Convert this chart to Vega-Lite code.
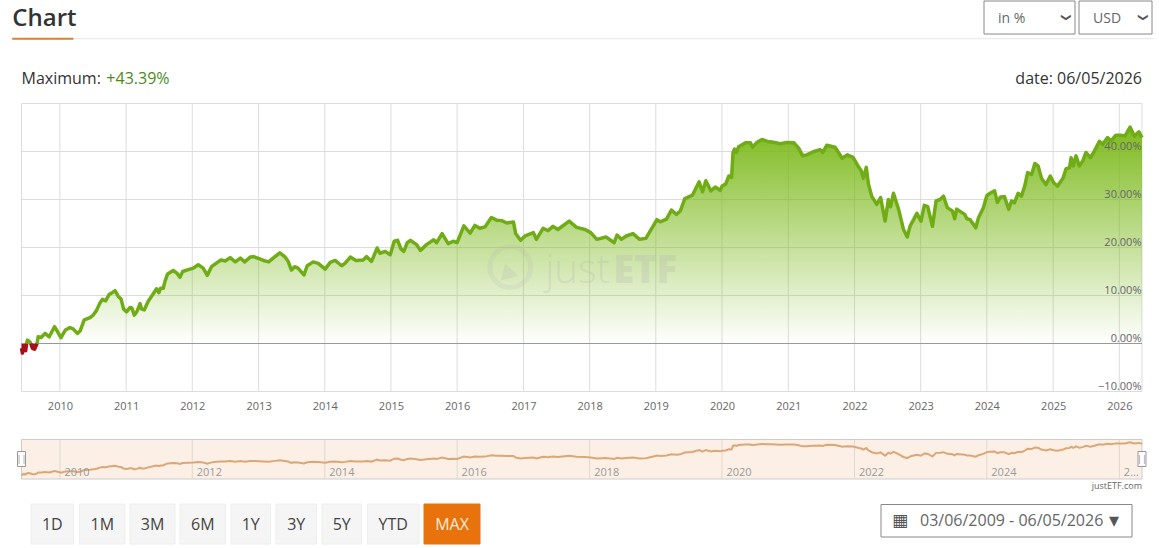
{
  "$schema": "https://vega.github.io/schema/vega-lite/v6.json",
  "width": 1159,
  "height": 548,
  "padding": 0,
  "autosize": {"type": "none"},
  "background": "white",
  "config": {"font": "Open Sans", "view": {"stroke": null}},
  "resolve": {"scale": {"x": "independent", "y": "independent", "color": "independent"}},
  "datasets": {
    "series": [
      {"date":"2009-06-03","value":-1.0,"run":"loss_a"},{"date":"2009-06-08","value":-2.0,"run":"loss_a"},{"date":"2009-06-16","value":-0.7,"run":"loss_a"},{"date":"2009-06-26","value":-1.5,"run":"loss_a"},{"date":"2009-07-01","value":0,"run":"loss_a"},
      {"date":"2009-07-01","value":0,"run":"gain_a"},{"date":"2009-07-06","value":0.7,"run":"gain_a"},{"date":"2009-07-19","value":0.35,"run":"gain_a"},{"date":"2009-07-24","value":0,"run":"gain_a"},
      {"date":"2009-07-24","value":0,"run":"loss_b"},{"date":"2009-08-02","value":-1.0,"run":"loss_b"},{"date":"2009-08-14","value":-1.2,"run":"loss_b"},{"date":"2009-08-28","value":0,"run":"loss_b"},
      {"date":"2009-08-28","value":0,"run":"gain_b"},{"date":"2009-09-03","value":1.4,"run":"gain_b"},{"date":"2009-09-19","value":1.25,"run":"gain_b"},{"date":"2009-10-11","value":2.1,"run":"gain_b"},{"date":"2009-11-03","value":1.4,"run":"gain_b"},{"date":"2009-12-02","value":3.5,"run":"gain_b"},{"date":"2009-12-20","value":2.4,"run":"gain_b"},
      {"date":"2010-01-06","value":1.2,"run":"gain_b"},{"date":"2010-01-31","value":2.8,"run":"gain_b"},{"date":"2010-02-25","value":3.3,"run":"gain_b"},{"date":"2010-03-15","value":3.05,"run":"gain_b"},{"date":"2010-04-07","value":2.1,"run":"gain_b"},{"date":"2010-04-22","value":2.6,"run":"gain_b"},{"date":"2010-05-15","value":4.9,"run":"gain_b"},{"date":"2010-06-16","value":5.4,"run":"gain_b"},{"date":"2010-07-03","value":5.9,"run":"gain_b"},{"date":"2010-07-22","value":6.9,"run":"gain_b"},{"date":"2010-08-09","value":8.4,"run":"gain_b"},{"date":"2010-08-23","value":9.2,"run":"gain_b"},{"date":"2010-09-10","value":8.9,"run":"gain_b"},{"date":"2010-09-29","value":10.2,"run":"gain_b"},{"date":"2010-10-13","value":10.5,"run":"gain_b"},{"date":"2010-11-01","value":11.0,"run":"gain_b"},{"date":"2010-11-19","value":9.8,"run":"gain_b"},{"date":"2010-12-04","value":9.3,"run":"gain_b"},{"date":"2010-12-18","value":7.2,"run":"gain_b"},
      {"date":"2011-01-03","value":6.6,"run":"gain_b"},{"date":"2011-01-23","value":7.5,"run":"gain_b"},{"date":"2011-02-02","value":7.4,"run":"gain_b"},{"date":"2011-02-15","value":5.9,"run":"gain_b"},{"date":"2011-03-01","value":6.6,"run":"gain_b"},{"date":"2011-03-19","value":8.3,"run":"gain_b"},{"date":"2011-03-27","value":7.2,"run":"gain_b"},{"date":"2011-04-11","value":7.0,"run":"gain_b"},{"date":"2011-05-03","value":8.8,"run":"gain_b"},{"date":"2011-05-30","value":10.3,"run":"gain_b"},{"date":"2011-06-18","value":11.4,"run":"gain_b"},{"date":"2011-07-01","value":10.6,"run":"gain_b"},{"date":"2011-07-10","value":11.5,"run":"gain_b"},{"date":"2011-07-25","value":11.5,"run":"gain_b"},{"date":"2011-08-04","value":13.0,"run":"gain_b"},{"date":"2011-08-18","value":14.5,"run":"gain_b"},{"date":"2011-09-18","value":15.2,"run":"gain_b"},{"date":"2011-10-10","value":14.6,"run":"gain_b"},{"date":"2011-10-25","value":13.8,"run":"gain_b"},{"date":"2011-11-09","value":15.0,"run":"gain_b"},{"date":"2011-12-10","value":15.4,"run":"gain_b"},
      {"date":"2012-01-07","value":15.7,"run":"gain_b"},{"date":"2012-02-03","value":16.4,"run":"gain_b"},{"date":"2012-03-01","value":15.7,"run":"gain_b"},{"date":"2012-03-24","value":14.2,"run":"gain_b"},{"date":"2012-04-16","value":16.0,"run":"gain_b"},{"date":"2012-05-15","value":16.8,"run":"gain_b"},{"date":"2012-06-07","value":17.4,"run":"gain_b"},{"date":"2012-07-01","value":17.2,"run":"gain_b"},{"date":"2012-07-28","value":17.9,"run":"gain_b"},{"date":"2012-08-25","value":17.0,"run":"gain_b"},{"date":"2012-09-22","value":17.8,"run":"gain_b"},{"date":"2012-10-16","value":17.0,"run":"gain_b"},{"date":"2012-11-16","value":18.0,"run":"gain_b"},{"date":"2012-12-04","value":18.1,"run":"gain_b"},
      {"date":"2013-01-03","value":17.7,"run":"gain_b"},{"date":"2013-01-28","value":17.3,"run":"gain_b"},{"date":"2013-02-25","value":17.0,"run":"gain_b"},{"date":"2013-03-22","value":17.8,"run":"gain_b"},{"date":"2013-04-28","value":18.9,"run":"gain_b"},{"date":"2013-05-25","value":18.1,"run":"gain_b"},{"date":"2013-06-12","value":17.2,"run":"gain_b"},{"date":"2013-07-01","value":15.3,"run":"gain_b"},{"date":"2013-07-19","value":16.0,"run":"gain_b"},{"date":"2013-08-06","value":15.7,"run":"gain_b"},{"date":"2013-09-08","value":14.3,"run":"gain_b"},{"date":"2013-09-26","value":16.2,"run":"gain_b"},{"date":"2013-10-29","value":17.0,"run":"gain_b"},{"date":"2013-11-26","value":16.7,"run":"gain_b"},
      {"date":"2014-01-03","value":15.5,"run":"gain_b"},{"date":"2014-01-31","value":16.9,"run":"gain_b"},{"date":"2014-02-27","value":17.3,"run":"gain_b"},{"date":"2014-04-04","value":16.2,"run":"gain_b"},{"date":"2014-04-22","value":16.7,"run":"gain_b"},{"date":"2014-05-22","value":18.0,"run":"gain_b"},{"date":"2014-06-21","value":17.3,"run":"gain_b"},{"date":"2014-08-01","value":17.4,"run":"gain_b"},{"date":"2014-08-19","value":18.1,"run":"gain_b"},{"date":"2014-09-16","value":17.1,"run":"gain_b"},{"date":"2014-10-17","value":19.9,"run":"gain_b"},{"date":"2014-11-01","value":18.8,"run":"gain_b"},{"date":"2014-11-30","value":19.2,"run":"gain_b"},{"date":"2014-12-28","value":18.5,"run":"gain_b"},
      {"date":"2015-01-19","value":21.3,"run":"gain_b"},{"date":"2015-02-07","value":21.5,"run":"gain_b"},{"date":"2015-02-25","value":19.7,"run":"gain_b"},{"date":"2015-03-13","value":19.2,"run":"gain_b"},{"date":"2015-04-01","value":21.0,"run":"gain_b"},{"date":"2015-04-19","value":21.5,"run":"gain_b"},{"date":"2015-05-22","value":20.6,"run":"gain_b"},{"date":"2015-06-13","value":19.4,"run":"gain_b"},{"date":"2015-07-16","value":20.6,"run":"gain_b"},{"date":"2015-08-25","value":21.6,"run":"gain_b"},{"date":"2015-09-10","value":21.0,"run":"gain_b"},{"date":"2015-10-10","value":22.9,"run":"gain_b"},{"date":"2015-11-13","value":20.8,"run":"gain_b"},{"date":"2015-12-10","value":21.3,"run":"gain_b"},
      {"date":"2016-01-01","value":21.0,"run":"gain_b"},{"date":"2016-02-07","value":24.5,"run":"gain_b"},{"date":"2016-03-13","value":23.0,"run":"gain_b"},{"date":"2016-04-08","value":24.6,"run":"gain_b"},{"date":"2016-05-05","value":24.0,"run":"gain_b"},{"date":"2016-06-03","value":24.3,"run":"gain_b"},{"date":"2016-07-08","value":26.25,"run":"gain_b"},{"date":"2016-08-06","value":25.7,"run":"gain_b"},{"date":"2016-09-03","value":25.6,"run":"gain_b"},{"date":"2016-10-01","value":25.1,"run":"gain_b"},{"date":"2016-11-07","value":25.3,"run":"gain_b"},{"date":"2016-11-19","value":22.9,"run":"gain_b"},{"date":"2016-12-16","value":21.5,"run":"gain_b"},
      {"date":"2017-01-10","value":22.4,"run":"gain_b"},{"date":"2017-02-25","value":23.1,"run":"gain_b"},{"date":"2017-03-13","value":21.7,"run":"gain_b"},{"date":"2017-04-19","value":24.0,"run":"gain_b"},{"date":"2017-05-16","value":23.5,"run":"gain_b"},{"date":"2017-06-13","value":24.4,"run":"gain_b"},{"date":"2017-07-10","value":23.75,"run":"gain_b"},{"date":"2017-09-10","value":25.5,"run":"gain_b"},{"date":"2017-10-21","value":24.2,"run":"gain_b"},{"date":"2017-12-07","value":23.75,"run":"gain_b"},
      {"date":"2018-01-07","value":23.1,"run":"gain_b"},{"date":"2018-02-10","value":21.7,"run":"gain_b"},{"date":"2018-04-01","value":22.2,"run":"gain_b"},{"date":"2018-05-16","value":21.0,"run":"gain_b"},{"date":"2018-06-01","value":22.6,"run":"gain_b"},{"date":"2018-06-25","value":21.7,"run":"gain_b"},{"date":"2018-07-22","value":22.4,"run":"gain_b"},{"date":"2018-08-28","value":22.9,"run":"gain_b"},{"date":"2018-10-04","value":21.7,"run":"gain_b"},{"date":"2018-11-07","value":21.9,"run":"gain_b"},{"date":"2018-12-13","value":24.2,"run":"gain_b"},
      {"date":"2019-01-07","value":25.8,"run":"gain_b"},{"date":"2019-01-25","value":25.35,"run":"gain_b"},{"date":"2019-03-01","value":25.9,"run":"gain_b"},{"date":"2019-03-28","value":27.8,"run":"gain_b"},{"date":"2019-04-25","value":26.9,"run":"gain_b"},{"date":"2019-05-16","value":27.6,"run":"gain_b"},{"date":"2019-06-10","value":30.2,"run":"gain_b"},{"date":"2019-07-22","value":30.9,"run":"gain_b"},{"date":"2019-08-28","value":33.7,"run":"gain_b"},{"date":"2019-09-16","value":31.6,"run":"gain_b"},{"date":"2019-10-04","value":33.9,"run":"gain_b"},{"date":"2019-11-01","value":31.8,"run":"gain_b"},{"date":"2019-11-25","value":32.6,"run":"gain_b"},{"date":"2019-12-22","value":31.9,"run":"gain_b"},
      {"date":"2020-01-02","value":32.8,"run":"gain_b"},{"date":"2020-01-21","value":33.2,"run":"gain_b"},{"date":"2020-02-08","value":34.9,"run":"gain_b"},{"date":"2020-02-23","value":34.6,"run":"gain_b"},{"date":"2020-03-02","value":39.8,"run":"gain_b"},{"date":"2020-03-10","value":40.5,"run":"gain_b"},{"date":"2020-03-20","value":39.8,"run":"gain_b"},{"date":"2020-04-02","value":41.0,"run":"gain_b"},{"date":"2020-05-09","value":41.8,"run":"gain_b"},{"date":"2020-06-06","value":41.8,"run":"gain_b"},{"date":"2020-06-18","value":40.9,"run":"gain_b"},{"date":"2020-07-12","value":41.9,"run":"gain_b"},{"date":"2020-08-09","value":42.5,"run":"gain_b"},{"date":"2020-09-07","value":42.1,"run":"gain_b"},{"date":"2020-10-03","value":42.0,"run":"gain_b"},{"date":"2020-11-18","value":41.6,"run":"gain_b"},{"date":"2020-12-25","value":41.9,"run":"gain_b"},
      {"date":"2021-02-01","value":41.8,"run":"gain_b"},{"date":"2021-02-27","value":40.7,"run":"gain_b"},{"date":"2021-03-21","value":39.1,"run":"gain_b"},{"date":"2021-04-13","value":39.3,"run":"gain_b"},{"date":"2021-05-18","value":39.95,"run":"gain_b"},{"date":"2021-06-25","value":40.4,"run":"gain_b"},{"date":"2021-07-10","value":39.8,"run":"gain_b"},{"date":"2021-08-01","value":41.3,"run":"gain_b"},{"date":"2021-09-16","value":40.9,"run":"gain_b"},{"date":"2021-10-25","value":38.6,"run":"gain_b"},{"date":"2021-11-22","value":39.3,"run":"gain_b"},{"date":"2021-12-24","value":38.8,"run":"gain_b"},
      {"date":"2022-01-25","value":36.7,"run":"gain_b"},{"date":"2022-02-07","value":36.0,"run":"gain_b"},{"date":"2022-02-19","value":34.4,"run":"gain_b"},{"date":"2022-03-07","value":36.7,"run":"gain_b"},{"date":"2022-03-19","value":33.2,"run":"gain_b"},{"date":"2022-04-07","value":30.6,"run":"gain_b"},{"date":"2022-05-04","value":29.0,"run":"gain_b"},{"date":"2022-05-25","value":30.4,"run":"gain_b"},{"date":"2022-06-19","value":25.5,"run":"gain_b"},{"date":"2022-07-07","value":30.0,"run":"gain_b"},{"date":"2022-07-19","value":28.5,"run":"gain_b"},{"date":"2022-08-04","value":31.3,"run":"gain_b"},{"date":"2022-09-01","value":28.0,"run":"gain_b"},{"date":"2022-09-28","value":23.8,"run":"gain_b"},{"date":"2022-10-19","value":22.2,"run":"gain_b"},{"date":"2022-11-04","value":24.5,"run":"gain_b"},{"date":"2022-11-23","value":25.8,"run":"gain_b"},{"date":"2022-12-11","value":27.1,"run":"gain_b"},
      {"date":"2023-01-03","value":25.5,"run":"gain_b"},{"date":"2023-01-21","value":28.8,"run":"gain_b"},{"date":"2023-02-09","value":28.5,"run":"gain_b"},{"date":"2023-03-07","value":24.4,"run":"gain_b"},{"date":"2023-03-27","value":29.7,"run":"gain_b"},{"date":"2023-04-18","value":30.0,"run":"gain_b"},{"date":"2023-05-07","value":30.7,"run":"gain_b"},{"date":"2023-05-28","value":28.3,"run":"gain_b"},{"date":"2023-06-25","value":27.6,"run":"gain_b"},{"date":"2023-07-08","value":26.0,"run":"gain_b"},{"date":"2023-07-19","value":28.0,"run":"gain_b"},{"date":"2023-09-01","value":26.9,"run":"gain_b"},{"date":"2023-09-13","value":26.0,"run":"gain_b"},{"date":"2023-10-01","value":25.8,"run":"gain_b"},{"date":"2023-11-01","value":24.1,"run":"gain_b"},{"date":"2023-11-16","value":26.2,"run":"gain_b"},{"date":"2023-12-13","value":28.3,"run":"gain_b"},
      {"date":"2024-01-01","value":30.8,"run":"gain_b"},{"date":"2024-01-19","value":31.3,"run":"gain_b"},{"date":"2024-02-13","value":31.8,"run":"gain_b"},{"date":"2024-02-28","value":29.4,"run":"gain_b"},{"date":"2024-03-16","value":30.5,"run":"gain_b"},{"date":"2024-04-07","value":30.6,"run":"gain_b"},{"date":"2024-05-01","value":28.0,"run":"gain_b"},{"date":"2024-05-16","value":29.7,"run":"gain_b"},{"date":"2024-06-01","value":29.3,"run":"gain_b"},{"date":"2024-06-22","value":31.3,"run":"gain_b"},{"date":"2024-07-10","value":30.7,"run":"gain_b"},{"date":"2024-07-28","value":32.8,"run":"gain_b"},{"date":"2024-08-13","value":35.6,"run":"gain_b"},{"date":"2024-09-04","value":35.2,"run":"gain_b"},{"date":"2024-09-22","value":37.5,"run":"gain_b"},{"date":"2024-10-10","value":37.0,"run":"gain_b"},{"date":"2024-10-28","value":34.5,"run":"gain_b"},{"date":"2024-11-22","value":33.1,"run":"gain_b"},{"date":"2024-12-16","value":34.9,"run":"gain_b"},
      {"date":"2025-01-04","value":33.5,"run":"gain_b"},{"date":"2025-01-25","value":32.8,"run":"gain_b"},{"date":"2025-02-25","value":34.5,"run":"gain_b"},{"date":"2025-03-13","value":36.4,"run":"gain_b"},{"date":"2025-04-01","value":36.6,"run":"gain_b"},{"date":"2025-04-10","value":38.7,"run":"gain_b"},{"date":"2025-04-22","value":37.0,"run":"gain_b"},{"date":"2025-05-07","value":39.1,"run":"gain_b"},{"date":"2025-05-25","value":37.0,"run":"gain_b"},{"date":"2025-06-13","value":38.0,"run":"gain_b"},{"date":"2025-07-01","value":39.8,"run":"gain_b"},{"date":"2025-07-25","value":38.7,"run":"gain_b"},{"date":"2025-08-16","value":40.1,"run":"gain_b"},{"date":"2025-09-13","value":42.1,"run":"gain_b"},{"date":"2025-10-01","value":41.5,"run":"gain_b"},{"date":"2025-10-28","value":42.9,"run":"gain_b"},{"date":"2025-11-16","value":42.2,"run":"gain_b"},{"date":"2025-12-13","value":43.4,"run":"gain_b"},
      {"date":"2026-01-10","value":43.4,"run":"gain_b"},{"date":"2026-02-01","value":43.2,"run":"gain_b"},{"date":"2026-03-01","value":45.1,"run":"gain_b"},{"date":"2026-03-25","value":43.2,"run":"gain_b"},{"date":"2026-04-19","value":44.1,"run":"gain_b"},{"date":"2026-05-06","value":42.9,"run":"gain_b"}
    ],
    "yGrid": [
      {"date":"2009-06-03","end":"2026-05-06","value":-10},{"date":"2009-06-03","end":"2026-05-06","value":10},{"date":"2009-06-03","end":"2026-05-06","value":20},{"date":"2009-06-03","end":"2026-05-06","value":30},{"date":"2009-06-03","end":"2026-05-06","value":40},{"date":"2009-06-03","end":"2026-05-06","value":50}
    ],
    "xGrid": [
      {"date":"2009-06-03","value":-10,"top":50},{"date":"2010-01-01","value":-10,"top":50},{"date":"2011-01-01","value":-10,"top":50},{"date":"2012-01-01","value":-10,"top":50},{"date":"2013-01-01","value":-10,"top":50},{"date":"2014-01-01","value":-10,"top":50},{"date":"2015-01-01","value":-10,"top":50},{"date":"2016-01-01","value":-10,"top":50},{"date":"2017-01-01","value":-10,"top":50},{"date":"2018-01-01","value":-10,"top":50},{"date":"2019-01-01","value":-10,"top":50},{"date":"2020-01-01","value":-10,"top":50},{"date":"2021-01-01","value":-10,"top":50},{"date":"2022-01-01","value":-10,"top":50},{"date":"2023-01-01","value":-10,"top":50},{"date":"2024-01-01","value":-10,"top":50},{"date":"2025-01-01","value":-10,"top":50},{"date":"2026-01-01","value":-10,"top":50},{"date":"2026-05-06","value":-10,"top":50}
    ],
    "navGrid": [
      {"date":"2010-01-01","value":-8,"top":49},{"date":"2012-01-01","value":-8,"top":49},{"date":"2014-01-01","value":-8,"top":49},{"date":"2016-01-01","value":-8,"top":49},{"date":"2018-01-01","value":-8,"top":49},{"date":"2020-01-01","value":-8,"top":49},{"date":"2022-01-01","value":-8,"top":49},{"date":"2024-01-01","value":-8,"top":49},{"date":"2026-01-01","value":-8,"top":49}
    ],
    "buttons": [
      {"label":"1D","slot":0},{"label":"1M","slot":2},{"label":"3M","slot":4},{"label":"6M","slot":6},{"label":"1Y","slot":8},{"label":"3Y","slot":10},{"label":"5Y","slot":12},{"label":"YTD","slot":14},{"label":"MAX","slot":16}
    ],
    "selects": [
      {"label":"in %","from":0,"to":1},{"label":"USD","from":2,"to":3}
    ]
  },
  "layer": [
    {
      "encoding": {
        "x": {
          "field": "date", "type": "temporal", "title": null,
          "scale": {"domain": ["2009-06-03", "2026-05-06"], "range": [21.5, 1142]},
          "axis": {"orient": "bottom", "offset": -156.5, "tickCount": {"interval": "year", "step": 1}, "format": "%Y", "domain": false, "ticks": false, "grid": false, "labelPadding": 9, "labelFontSize": 11, "labelColor": "#666666", "labelFont": "Open Sans", "labelFlush": false, "labelOverlap": false}
        },
        "y": {
          "field": "value", "type": "quantitative", "title": null,
          "scale": {"domain": [-10, 50], "range": [391.5, 103.5]},
          "axis": {"orient": "right", "offset": -17, "values": [-10, 0, 10, 20, 30, 40], "labelExpr": "format(datum.value, '.2f') + '%'", "domain": false, "ticks": false, "grid": false, "labelAlign": "right", "labelBaseline": "bottom", "labelPadding": -1, "labelFontSize": 11, "labelColor": "#666666", "labelFont": "Open Sans", "labelOverlap": false, "zindex": 1}
        }
      },
      "layer": [
        {"data": {"name": "yGrid"}, "mark": {"type": "rule", "color": "#dddddd", "strokeWidth": 1}, "encoding": {"x2": {"field": "end"}}},
        {"data": {"name": "xGrid"}, "mark": {"type": "rule", "color": "#dddddd", "strokeWidth": 1}, "encoding": {"y2": {"field": "top"}}},
        {
          "data": {"name": "series"},
          "transform": [{"filter": "indexof(datum.run, 'gain') === 0"}],
          "mark": {"type": "area", "color": {"gradient": "linear", "x1": 0, "y1": 0, "x2": 0, "y2": 1, "stops": [{"offset": 0, "color": "rgba(122,184,24,0.97)"}, {"offset": 1, "color": "rgba(122,184,24,0)"}]}},
          "encoding": {"detail": {"field": "run"}, "y2": {"datum": 0}}
        },
        {
          "data": {"name": "series"},
          "transform": [{"filter": "indexof(datum.run, 'loss') === 0"}],
          "mark": {"type": "area", "color": "#a5101a"},
          "encoding": {"detail": {"field": "run"}, "y2": {"datum": 0}}
        },
        {"data": {"values": [{"date": "2009-06-03", "end": "2026-05-06", "value": 0}]}, "mark": {"type": "rule", "color": "#999999", "strokeWidth": 1}, "encoding": {"x2": {"field": "end"}}},
        {
          "data": {"name": "series"},
          "mark": {"type": "line", "strokeWidth": 3.5, "strokeJoin": "round"},
          "encoding": {
            "color": {"field": "run", "type": "nominal", "legend": null, "scale": {"domain": ["loss_a", "gain_a", "loss_b", "gain_b"], "range": ["#a5101a", "#70ac15", "#a5101a", "#70ac15"]}}
          }
        },
        {
          "data": {"values": [{"date": "2016-10-20", "value": 15.9}]},
          "mark": {"type": "point", "shape": "circle", "size": 1660, "filled": false, "strokeWidth": 5, "color": "#b0b0b0", "opacity": 0.16}
        },
        {
          "data": {"values": [{"date": "2016-10-08", "value": 14.6}]},
          "mark": {"type": "point", "shape": "triangle", "size": 320, "filled": true, "angle": 225, "color": "#b0b0b0", "opacity": 0.2}
        },
        {
          "data": {"values": [{"date": "2017-05-01", "value": 12.6, "label": "just"}]},
          "mark": {"type": "text", "align": "left", "baseline": "alphabetic", "fontSize": 40, "fontWeight": 300, "color": "#b0b0b0", "opacity": 0.24},
          "encoding": {"text": {"field": "label"}}
        },
        {
          "data": {"values": [{"date": "2018-05-11", "value": 12.6, "label": "ETF"}]},
          "mark": {"type": "text", "align": "left", "baseline": "alphabetic", "fontSize": 38, "fontWeight": 800, "color": "#b0b0b0", "opacity": 0.24},
          "encoding": {"text": {"field": "label"}}
        },
        {
          "data": {"values": [{"date": "2009-04-13", "value": 67.6, "label": "Chart"}]},
          "mark": {"type": "text", "align": "left", "baseline": "middle", "fontSize": 24, "fontWeight": 600, "color": "#333333"},
          "encoding": {"text": {"field": "label"}}
        },
        {
          "data": {"values": [{"date": "2009-06-03", "value": 55.1, "label": "Maximum:"}]},
          "mark": {"type": "text", "align": "left", "baseline": "middle", "fontSize": 16, "color": "#333333"},
          "encoding": {"text": {"field": "label"}}
        },
        {
          "data": {"values": [{"date": "2010-09-14", "value": 55.1, "label": "+43.39%"}]},
          "mark": {"type": "text", "align": "left", "baseline": "middle", "fontSize": 16, "color": "#4c8a1c"},
          "encoding": {"text": {"field": "label"}}
        },
        {
          "data": {"values": [{"date": "2026-05-06", "value": 55.1, "label": "date: 06/05/2026"}]},
          "mark": {"type": "text", "align": "right", "baseline": "middle", "fontSize": 16, "color": "#333333"},
          "encoding": {"text": {"field": "label"}}
        },
        {
          "data": {"values": [{"date": "2009-04-13", "end": "2026-07-10", "value": 63.5}]},
          "mark": {"type": "rule", "color": "#e6e6e6", "strokeWidth": 1},
          "encoding": {"x2": {"field": "end"}}
        },
        {
          "data": {"values": [{"date": "2009-04-13", "end": "2010-03-16", "value": 63.5}]},
          "mark": {"type": "rule", "color": "#d9822b", "strokeWidth": 2},
          "encoding": {"x2": {"field": "end"}}
        }
      ]
    },
    {
      "encoding": {
        "x": {
          "field": "date", "type": "temporal", "title": null,
          "scale": {"domain": ["2009-06-03", "2026-05-06"], "range": [21.5, 1142]},
          "axis": {"orient": "bottom", "offset": -69, "tickCount": {"interval": "year", "step": 2}, "labelExpr": "year(datum.value) === 2026 ? '2...' : timeFormat(datum.value, '%Y')", "domain": false, "ticks": false, "grid": false, "labelAlign": "left", "labelBaseline": "middle", "labelPadding": -7, "labelOffset": 4, "labelFontSize": 11, "labelColor": "#999999", "labelFont": "Open Sans", "labelFlush": false, "labelOverlap": false, "zindex": 1}
        },
        "y": {"field": "value", "type": "quantitative", "title": null, "axis": null, "scale": {"domain": [-8, 49], "range": [479, 439.5]}}
      },
      "layer": [
        {
          "data": {"values": [{"date": "2009-06-03", "end": "2026-05-06", "value": -8, "top": 49}]},
          "mark": {"type": "rect", "fill": "#fcf0e6", "stroke": "#cccccc", "strokeWidth": 1},
          "encoding": {"x2": {"field": "end"}, "y2": {"field": "top"}}
        },
        {"data": {"name": "navGrid"}, "mark": {"type": "rule", "color": "#dfd8d0", "strokeWidth": 1}, "encoding": {"y2": {"field": "top"}}},
        {"data": {"name": "series"}, "mark": {"type": "line", "color": "#dba776", "strokeWidth": 2}},
        {
          "data": {"values": [{"date": "2009-06-03", "value": 20.9}, {"date": "2026-05-06", "value": 20.9}]},
          "mark": {"type": "tick", "orient": "vertical", "size": 15, "thickness": 8, "fill": "#ffffff", "stroke": "#999999", "strokeWidth": 1, "opacity": 1}
        },
        {
          "data": {"values": [{"date": "2009-06-03", "value": 20.9, "label": "||"}, {"date": "2026-05-06", "value": 20.9, "label": "||"}]},
          "mark": {"type": "text", "align": "center", "baseline": "middle", "fontSize": 9, "color": "#888888"},
          "encoding": {"text": {"field": "label"}}
        },
        {
          "data": {"values": [{"date": "2026-05-06", "value": -18.1, "label": "justETF.com"}]},
          "mark": {"type": "text", "align": "right", "baseline": "middle", "fontSize": 9, "color": "#666666"},
          "encoding": {"text": {"field": "label"}}
        }
      ]
    },
    {
      "data": {"name": "buttons"},
      "transform": [
        {"calculate": "datum.slot + 1", "as": "slot_end"},
        {"calculate": "datum.slot + 0.5", "as": "slot_mid"}
      ],
      "layer": [
        {
          "mark": {"type": "rect", "strokeWidth": 1},
          "encoding": {
            "x": {"field": "slot", "type": "quantitative", "axis": null, "scale": {"domain": [0,1,2,3,4,5,6,7,8,9,10,11,12,13,14,15,16,17], "range": [31,73.5,79.5,125,130,175,180,225.5,231,270.5,276,316.5,322,361.5,367.5,419,424,480]}},
            "x2": {"field": "slot_end"},
            "y": {"datum": 0, "type": "quantitative", "axis": null, "scale": {"domain": [0, 1], "range": [544, 504]}},
            "y2": {"datum": 1},
            "fill": {"condition": {"test": "datum.label === 'MAX'", "value": "#e8720c"}, "value": "#f5f5f5"},
            "stroke": {"condition": {"test": "datum.label === 'MAX'", "value": "#e8720c"}, "value": "#eeeeee"}
          }
        },
        {
          "mark": {"type": "text", "align": "center", "baseline": "middle", "dy": 1, "fontSize": 16},
          "encoding": {
            "x": {"field": "slot_mid", "type": "quantitative", "axis": null, "scale": {"domain": [0,1,2,3,4,5,6,7,8,9,10,11,12,13,14,15,16,17], "range": [31,73.5,79.5,125,130,175,180,225.5,231,270.5,276,316.5,322,361.5,367.5,419,424,480]}},
            "y": {"datum": 0.5, "type": "quantitative", "axis": null, "scale": {"domain": [0, 1], "range": [544, 504]}},
            "text": {"field": "label"},
            "color": {"condition": {"test": "datum.label === 'MAX'", "value": "#f8ecdc"}, "value": "#444444"}
          }
        }
      ]
    },
    {
      "data": {"name": "selects"},
      "encoding": {
        "x": {"field": "from", "type": "quantitative", "axis": null, "scale": {"domain": [0, 1, 2, 3], "range": [984, 1075, 1079, 1152]}},
        "y": {"datum": 0.5, "type": "quantitative", "axis": null, "scale": {"domain": [0, 1], "range": [34, 1]}}
      },
      "layer": [
        {
          "mark": {"type": "rect", "fill": "#ffffff", "stroke": "#888888", "strokeWidth": 1},
          "encoding": {"x2": {"field": "to"}, "y": {"datum": 0, "type": "quantitative", "axis": null, "scale": {"domain": [0, 1], "range": [34, 1]}}, "y2": {"datum": 1}}
        },
        {
          "mark": {"type": "text", "align": "left", "baseline": "middle", "dx": 14, "dy": 1, "fontSize": 14, "color": "#666666"},
          "encoding": {"text": {"field": "label"}}
        },
        {
          "mark": {"type": "text", "align": "center", "baseline": "middle", "dy": 9, "angle": 90, "text": "❯", "font": "DejaVu Sans", "fontSize": 10, "color": "#555555"},
          "encoding": {"x": {"field": "to", "type": "quantitative", "axis": null, "scale": {"domain": [0, 1, 2, 3], "range": [984, 1075, 1079, 1152]}}}
        }
      ]
    },
    {
      "data": {"values": [{"label": "03/06/2009 - 06/05/2026", "from": 0, "to": 1, "icon": "▦", "caret": "▾"}]},
      "encoding": {
        "x": {"field": "from", "type": "quantitative", "axis": null, "scale": {"domain": [0, 1], "range": [881, 1132]}},
        "y": {"datum": 0.5, "type": "quantitative", "axis": null, "scale": {"domain": [0, 1], "range": [537, 504.5]}}
      },
      "layer": [
        {
          "mark": {"type": "rect", "fill": "#ffffff", "stroke": "#888888", "strokeWidth": 1},
          "encoding": {"x2": {"field": "to"}, "y": {"datum": 0, "type": "quantitative", "axis": null, "scale": {"domain": [0, 1], "range": [537, 504.5]}}, "y2": {"datum": 1}}
        },
        {
          "mark": {"type": "text", "align": "left", "baseline": "middle", "dx": 11, "font": "DejaVu Sans", "fontSize": 17, "color": "#555555"},
          "encoding": {"text": {"field": "icon"}}
        },
        {
          "mark": {"type": "text", "align": "left", "baseline": "middle", "dx": 39, "fontSize": 16, "color": "#666666"},
          "encoding": {"text": {"field": "label"}}
        },
        {
          "mark": {"type": "text", "align": "center", "baseline": "middle", "dx": 233, "font": "DejaVu Sans", "fontSize": 20, "color": "#555555"},
          "encoding": {"text": {"field": "caret"}}
        }
      ]
    }
  ]
}
